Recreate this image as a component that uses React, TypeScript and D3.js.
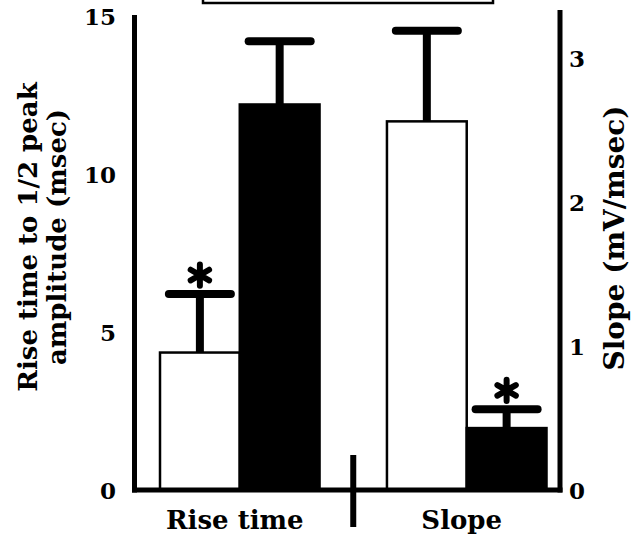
import React from "react";
import * as d3 from "d3";

const categories = ["Rise time", "Slope"];
const groups = ["open", "filled"];
// Rise time (msec, left axis)
const riseTimeMeans = [4.35, 12.2];
const riseTimeUpper = [6.2, 14.2];
const riseTimeSig = [true, false];
// Slope (mV/msec, right axis)
const slopeMeans = [2.56, 0.43];
const slopeUpper = [3.19, 0.56];
const slopeSig = [false, true];

const leftTicks = [0, 5, 10, 15];
const rightTicks = [0, 1, 2, 3];

const W = 636;
const H = 538;
const FONT = "'DejaVu Serif', serif";

export default function App() {
  const yL = d3.scaleLinear().domain([0, 15]).range([490, 16]);
  const yR = d3.scaleLinear().domain([0, 3]).range([490, 58]);
  const xG = d3
    .scaleBand<string>()
    .domain(categories)
    .range([160, 546.5])
    .paddingInner(0.297)
    .paddingOuter(0);
  const xS = d3.scaleBand<string>().domain(groups).range([0, xG.bandwidth()]).padding(0);

  const series = [
    { cat: categories[0], means: riseTimeMeans, upper: riseTimeUpper, sig: riseTimeSig, y: yL },
    { cat: categories[1], means: slopeMeans, upper: slopeUpper, sig: slopeSig, y: yR },
  ];

  const leftX = 134.5;
  const rightX = 560;
  const baseY = 490;
  const dividerX = (xG(categories[0])! + xG.bandwidth() + xG(categories[1])!) / 2;
  const star = d3.symbol().type(d3.symbolAsterisk).size(320)()!;

  return (
    <svg
      width={W}
      height={H}
      style={{ position: "absolute", left: 0, top: 0, background: "#fff" }}
      fontFamily={FONT}
      fontWeight="bold"
    >
      <rect x={0} y={0} width={W} height={H} fill="#fff" />
      {/* cropped legend box */}
      <rect x={203} y={-20} width={290} height={23} fill="none" stroke="#000" strokeWidth={2.5} />

      {/* bars */}
      {series.map((s) =>
        groups.map((g, i) => {
          const x0 = xG(s.cat)! + xS(g)!;
          const w = xS.bandwidth();
          const cx = x0 + w / 2;
          const top = s.y(s.means[i]);
          const up = s.y(s.upper[i]);
          return (
            <g key={s.cat + g}>
              <rect
                x={x0}
                y={top}
                width={w}
                height={s.y(0) - top}
                fill={g === "open" ? "#fff" : "#000"}
                stroke="#000"
                strokeWidth={2.5}
              />
              <line x1={cx} x2={cx} y1={top} y2={up} stroke="#000" strokeWidth={8} />
              <line x1={cx - 31} x2={cx + 31} y1={up} y2={up} stroke="#000" strokeWidth={8} strokeLinecap="round" />
              {s.sig[i] && (
                <path
                  d={star}
                  transform={`translate(${cx},${up - 19})`}
                  fill="none"
                  stroke="#000"
                  strokeWidth={6}
                  strokeLinecap="round"
                />
              )}
            </g>
          );
        })
      )}

      {/* axes */}
      <line x1={leftX} x2={leftX} y1={15} y2={baseY + 2.5} stroke="#000" strokeWidth={5} />
      <line x1={rightX} x2={rightX} y1={10} y2={baseY + 2.5} stroke="#000" strokeWidth={5} />
      <line x1={leftX - 2.5} x2={rightX + 2.5} y1={baseY} y2={baseY} stroke="#000" strokeWidth={5} />
      <line x1={dividerX} x2={dividerX} y1={455} y2={527} stroke="#000" strokeWidth={6} />

      {leftTicks.map((t) => (
        <text key={"l" + t} x={116} y={yL(t)} textAnchor="end" dominantBaseline="central" fontSize={23}>
          {t}
        </text>
      ))}
      {rightTicks.map((t) => (
        <text key={"r" + t} x={569} y={yR(t)} textAnchor="start" dominantBaseline="central" fontSize={23}>
          {t}
        </text>
      ))}

      {categories.map((c) => (
        <text key={c} x={xG(c)! + xG.bandwidth() / 2 - 5} y={529} textAnchor="middle" fontSize={26}>
          {c}
        </text>
      ))}

      <text transform={`translate(37,237) rotate(-90)`} textAnchor="middle" fontSize={26}>
        Rise time to 1/2 peak
      </text>
      <text transform={`translate(66,237) rotate(-90)`} textAnchor="middle" fontSize={26}>
        amplitude (msec)
      </text>
      <text transform={`translate(624,238) rotate(-90)`} textAnchor="middle" fontSize={28}>
        Slope (mV/msec)
      </text>
    </svg>
  );
}
